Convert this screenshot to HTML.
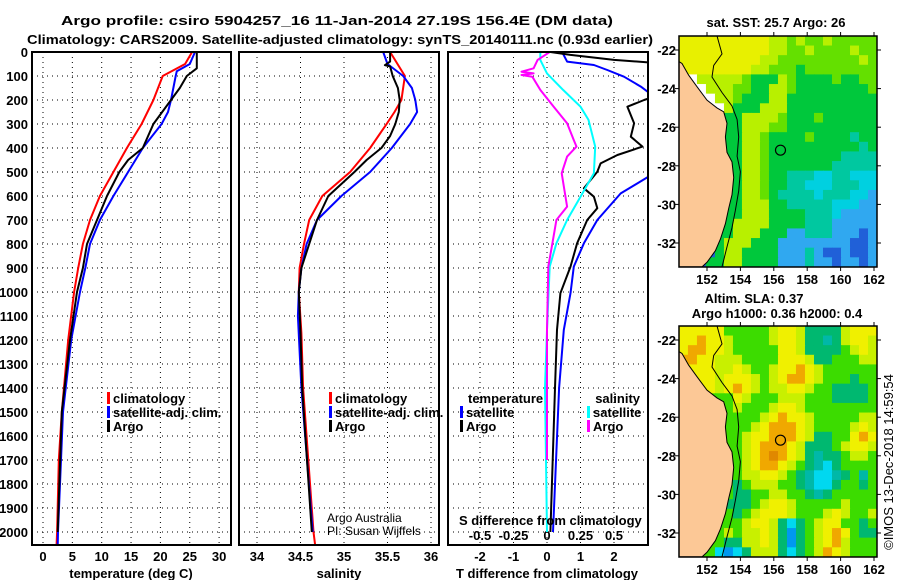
<!DOCTYPE html>
<html><head><meta charset="utf-8"><title>Argo profile</title>
<style>
html,body{margin:0;padding:0;background:#fff;}
svg{display:block;font-family:"Liberation Sans",Arial,sans-serif;}
.b{font-weight:bold;font-size:13px;}
</style></head>
<body>
<svg id="chart" width="900" height="580" viewBox="0 0 900 580" xmlns="http://www.w3.org/2000/svg">
<defs>
<clipPath id="c1"><rect x="32" y="52" width="199" height="493"/></clipPath>
<clipPath id="c2"><rect x="239" y="52" width="200" height="493"/></clipPath>
<clipPath id="c3"><rect x="448" y="52" width="200" height="493"/></clipPath>
<clipPath id="cm1"><rect x="679" y="36" width="198" height="231"/></clipPath>
<clipPath id="cm2"><rect x="679" y="326" width="198" height="231"/></clipPath>
</defs>
<text x="337" y="25" text-anchor="middle" class="b" textLength="552" lengthAdjust="spacingAndGlyphs">Argo profile: csiro 5904257_16 11-Jan-2014 27.19S 156.4E (DM data)</text>
<text x="340" y="44" text-anchor="middle" class="b" textLength="626" lengthAdjust="spacingAndGlyphs">Climatology: CARS2009. Satellite-adjusted climatology: synTS_20140111.nc (0.93d earlier)</text>
<g id="g"></g>
</svg>
<script>
// ---------- data: temperature panel ----------
const tClimDepth = [0,50,100,200,300,400,500,600,700,800,900,1000,1200,1500,1700,2000,2060];
const tClim = [25.4,24.2,20.4,18.8,16.8,14.3,12,9.7,8,6.8,6,5.3,4.3,3.2,2.7,2.4,2.3];
const tSatDepth = [0,50,80,100,200,250,300,400,500,600,700,800,900,1000,1200,1500,1800,2000,2060];
const tSat = [25.9,25,22.8,22.6,21.8,21.3,20.2,17,14.5,12,9.7,8,7.2,6.3,4.8,3.4,2.9,2.55,2.5];
const tArgoDepth = [0,68,100,150,200,300,400,450,500,600,700,800,900,1000,1200,1500,2000];
const tArgo = [26.2,26.2,24.5,23.3,21.8,18.8,17,14.5,13,10.9,9.2,7.5,6.8,5.8,4.6,3.2,2.5];
// ---------- data: salinity panel ----------
const sClimDepth = [0,100,200,250,300,400,500,600,700,800,900,1000,1170,1400,2000,2060];
const sClim = [35.53,35.70,35.66,35.58,35.49,35.3,35.07,34.75,34.6,34.54,34.49,34.48,34.51,34.53,34.65,34.67];
const sSatDepth = [0,50,100,150,200,250,300,400,500,600,700,800,900,1000,1100,1400,2000];
const sSat = [35.45,35.5,35.68,35.78,35.82,35.84,35.76,35.55,35.3,34.97,34.69,34.57,34.51,34.48,34.47,34.51,34.64];
const sArgoDepth = [0,40,55,60,100,150,200,250,300,350,400,450,500,600,700,800,900,1000,1170,1400,2000];
const sArgo = [35.53,35.53,35.47,35.53,35.56,35.62,35.64,35.63,35.59,35.53,35.43,35.26,35.12,34.82,34.69,34.6,34.51,34.48,34.5,34.52,34.63];
// ---------- data: difference panel ----------
const dTArgoDepth = [0,12,33,45,186,200,228,297,353,394,429,464,499,568,603,651,700,797,894,1005,1158,1400,2000];
const dTArgo = [0.1,0.7,2,3.2,3.2,2.9,2.4,2.6,2.5,2.85,2.1,1.6,1.5,1.1,1.4,1.5,1.2,0.9,0.7,0.4,0.3,0.24,0.1];
const dTSatDepth = [0,40,54,75,103,144,186,505,589,700,797,894,1005,1158,1400,2000];
const dTSat = [0.45,0.6,1.4,1.8,2.3,2.8,3.2,3.2,2.2,1.5,1.1,0.8,0.7,0.5,0.36,0.18];
const dSSatDepth = [0,33,89,158,228,283,394,505,603,700,797,894,1158,1400,2000];
const dSSat = [-0.05,-0.05,0,0.12,0.25,0.31,0.36,0.35,0.25,0.15,0.07,0.02,0,-0.015,0];
const dSArgoDepth = [0,33,68,82,89,96,103,158,228,297,367,394,436,505,575,644,700,797,894,1158,1700];
const dSArgo = [0.02,-0.07,-0.1,-0.19,-0.1,-0.19,-0.11,-0.05,0.05,0.15,0.2,0.22,0.15,0.11,0.13,0.15,0.07,0.04,0.01,0,0];
// ---------- ticks ----------
const depthTicks = [0,100,200,300,400,500,600,700,800,900,1000,1100,1200,1300,1400,1500,1600,1700,1800,1900,2000];
const tTicks = [0,5,10,15,20,25,30];
const sTicks = ["34","34.5","35","35.5","36"];
const dTTicks = [-2,-1,0,1,2];
const dSTicks = ["-0.5","-0.25","0","0.25","0.5"];
const lonTicks = [152,154,156,158,160,162];
const latTicks = [-22,-24,-26,-28,-30,-32];
// ---------- map grids ----------
const sstGrid = [
"YYYYYYYYYYLLGLGGLGGGGG","YYYYYYYYYYLLGGLGGGGLGG","YYYYYYYYYLLGGGGGGGGGLG","YYYYYYYYLLGGGDGGGGGGGG",
"WWLLLLLGDDDLGDDDDGDDGG","WWWLLLGGDDLLGDDDDDDDDG","WWWWLLGDDDLLDDDDDDDDDD","WWWWWLDDDLLLDDDDDDDDDD",
"SSSSSDDLLLLGDDDGDDDDDD","SSSSSDDLLLGGDDDDDDDDDD","SSSSSDDLLGDDDDGDDDDTDD","SSSSSDDLLGDDDDDDDDDDTD",
"SSSSSDDLLGDDDDDDDDTTTT","SSSSSDDLLGDDDDDDDTTTTT","SSSSSDDLLGDDTTTCCTTCCC","SSSSSDDLLGDDTTCCCTTTCC",
"SSSSSDDLLGDTTTTCTTTCCB","SSSSSDDLLLDDTTTTTCCCBB","SSSSSDDLLLDDDDTTTCBBBB","SSSSDDLLLLDDDDTTTBBBBB",
"SSSSDDLLLDDDBBTTTBBBNB","SSSSDLLLDDDBBBBBBBBNNB","SSSNDLLDDDDBBBTBNNBNNB","SSNDDLLDDDDBBBTBBNBBNB"];
const slaGrid = [
"YYYYYGGGGGLYYLDDDDLYYY","YYOYYLGGGGLYYLDDTDLYYL","YOOYYLGGGGGYYLDDDDGLYL","OOYYLLLGGGGYYYLDDGGGLL",
"YYYYLLYLGGLYYOYLGGGGGG","YYYYLYYYLGLYOOYLGGGDGG","YYYYLYOYLGLLYYLGGDDDDG","SSSSGGYLGGGLLLGGGDDDDG",
"SSSSSGLGGGLYYLGGGGGGGG","SSSSSGGGGLYOYYLGGGGGLL","SSSSSGGGLYOOOYLGGGGLYL","SSSSSGGLYYOOOYLDDGGYOY",
"SSSSSGGLYOOOYLDDDGLYYL","SSSSSGGLYOoOYLDTDDGLLG","SSSSSGGLYOOYLGDTCDGGGG","SSSSSGGLLYYLGDTCCTDGTG",
"SSSSSGDGLLLGGDTCCDGGDG","SSSSSGDDGGLLGGDTDGGGGG","SSSSGDDDGLYYLGGGGGLGGG","SSSSGGDGLYYYLGGGLYLGGL",
"SSSSGGGLYYLDCDGLYYGGDG","SSSSGLGLLYLDBDGLYOYGDD","SSSGGDDLLYLDBDGLYOLGGG","SSSGCBCDLLLDCDGLOYLGGG"];
const argoLon = 156.4, argoLat = -27.19;

// ---------- scales ----------
const yD = d => 52 + d*0.24;
const xT = v => 43 + v*5.87;
const xS = v => 257 + (v-34)*87;
const xDT = v => 547 + v*33.5;
const xDS = v => 547 + v*134;
const lonX = lon => 707 + (lon-152)*16.7;
const latY1 = lat => 50 + (-22-lat)*19.3;
const latY2 = lat => 340 + (-22-lat)*19.3;

const NS = "http://www.w3.org/2000/svg";
const G = document.getElementById('g');
function mk(tag, attrs, parent){ const e=document.createElementNS(NS,tag); for(const k in attrs) e.setAttribute(k,attrs[k]); (parent||G).appendChild(e); return e; }
function txt(s, attrs, parent){ const e=mk('text',attrs,parent); e.textContent=s; return e; }
function line(xs, ds, xf, color, w, clip, name){
  const pts = xs.map((v,i)=> xf(v).toFixed(1)+','+yD(ds[i]).toFixed(1)).join(' ');
  const p = mk('polyline',{points:pts,fill:'none',stroke:color,'stroke-width':w,'clip-path':'url(#'+clip+')','stroke-linejoin':'round'});
  
  
  return p;
}

// ---------- panel frames / grids ----------
const panels = [{x0:32,x1:231,clip:'c1',name:'temperature-panel'},{x0:239,x1:439,clip:'c2',name:'salinity-panel'},{x0:448,x1:648,clip:'c3',name:'difference-panel'}];
panels.forEach(p=>{
  const grp = mk('g',{});
  
  
  depthTicks.forEach(d=>{ if(d>0) mk('line',{x1:p.x0,x2:p.x1,y1:yD(d),y2:yD(d),stroke:'#000','stroke-width':1,'stroke-dasharray':'1,4'},grp); });
});
tTicks.forEach(v=>{ mk('line',{x1:xT(v),x2:xT(v),y1:52,y2:545,stroke:'#000','stroke-dasharray':'1,4'}); });
sTicks.forEach(v=>{ mk('line',{x1:xS(+v),x2:xS(+v),y1:52,y2:545,stroke:'#000','stroke-dasharray':'1,4'}); });
dTTicks.forEach(v=>{ mk('line',{x1:xDT(v),x2:xDT(v),y1:52,y2:545,stroke:'#000','stroke-dasharray':'1,4'}); });

depthTicks.forEach(d=>{
  const t = txt(String(d),{x:28,y:yD(d)+5,'text-anchor':'end',class:'b'});
  
  
});
tTicks.forEach(v=>{
  const t = txt(String(v),{x:xT(v),y:561,'text-anchor':'middle',class:'b'});
  
  
});
sTicks.forEach(v=>{
  const t = txt(v,{x:xS(+v),y:561,'text-anchor':'middle',class:'b'});
  
  
});
dTTicks.forEach(v=>{
  const t = txt(String(v),{x:xDT(v),y:561,'text-anchor':'middle',class:'b'});
  
  
});
dSTicks.forEach(v=>{
  const t = txt(v,{x:xDS(+v),y:540,'text-anchor':'middle',class:'b'});
  
  
});

line(tClim,tClimDepth,xT,'#f00',2,'c1','temp-climatology-line');
line(tSat,tSatDepth,xT,'#00f',2,'c1','temp-satellite-line');
line(tArgo,tArgoDepth,xT,'#000',2,'c1','temp-argo-line');
line(sClim,sClimDepth,xS,'#f00',2,'c2','sal-climatology-line');
line(sSat,sSatDepth,xS,'#00f',2,'c2','sal-satellite-line');
line(sArgo,sArgoDepth,xS,'#000',2,'c2','sal-argo-line');
line(dTSat,dTSatDepth,xDT,'#00f',2,'c3','tdiff-satellite-line');
line(dTArgo,dTArgoDepth,xDT,'#000',2,'c3','tdiff-argo-line');
line(dSSat,dSSatDepth,xDS,'#0ff',2,'c3','sdiff-satellite-line');
line(dSArgo,dSArgoDepth,xDS,'#f0f',2,'c3','sdiff-argo-line');

panels.forEach(p=>{
  const r = mk('rect',{x:p.x0,y:52,width:p.x1-p.x0,height:493,fill:'none',stroke:'#000','stroke-width':2});
  
  
});

[["temperature (deg C)",131,578,'x-axis-title-temperature'],["salinity",339,578,'x-axis-title-salinity'],["T difference from climatology",547,578,'x-axis-title-t-diff']].forEach(a=>{
  const t = txt(a[0],{x:a[1],y:a[2],'text-anchor':'middle',class:'b'});
  
  
});
{ const t = txt("S difference from climatology",{x:459,y:525,class:'b'});
  
   }

function legEntry(x,y,color,label){
  const g = mk('g',{});
  
  
  mk('rect',{x:x,y:y-11,width:3,height:12,fill:color},g);
  txt(label,{x:x+6,y:y,class:'b'},g);
}
legEntry(107,403,'#f00','climatology');legEntry(107,417,'#00f','satellite-adj. clim.');legEntry(107,431,'#000','Argo');
legEntry(329,403,'#f00','climatology');legEntry(329,417,'#00f','satellite-adj. clim.');legEntry(329,431,'#000','Argo');
{ const t = txt("temperature",{x:468,y:403,class:'b'});   }
{ const t = txt("salinity",{x:640,y:403,'text-anchor':'end',class:'b'});   }
legEntry(460,417,'#00f','satellite');legEntry(460,431,'#000','Argo');
legEntry(587,417,'#0ff','satellite');legEntry(587,431,'#f0f','Argo');
{ const t = txt("Argo Australia",{x:327,y:522,'font-size':12});   }
{ const t = txt("PI: Susan Wijffels",{x:327,y:535,'font-size':12});   }

// ---------- maps ----------
const pal1 = {Y:'#e8f000',L:'#b8f000',G:'#64e000',D:'#00c83c',T:'#00c8a0',C:'#00d0e0',B:'#30a8f0',N:'#2060d8',W:'#ffffff',S:'#00c83c'};
const pal2 = {Y:'#f0f000',O:'#f0a800',o:'#e08800',L:'#c8f000',G:'#3cdc00',D:'#00b870',T:'#00b8a8',C:'#00d8f0',B:'#0098f0',S:'#3cdc00'};
const lonW = 150.32, lonE = 162.18, latN = -21.27, latS = -33.24;
const land = [[150.32,-22.6],[150.5,-22.7],[150.9,-23.3],[151.4,-23.9],[152.0,-24.6],[152.6,-25.0],[153.0,-25.2],[153.2,-25.8],[153.1,-26.5],[153.2,-27.3],[153.5,-27.8],[153.6,-28.6],[153.5,-29.5],[153.3,-30.2],[153.1,-31],[152.8,-31.8],[152.5,-32.4],[152.0,-33],[151.7,-33.24],[150.32,-33.24]];
const iso = [[152.6,-21.27],[152.9,-22.2],[152.4,-22.8],[152.3,-23.4],[152.9,-24.2],[153.5,-24.9],[153.8,-25.6],[153.9,-26.5],[153.8,-27.5],[154.0,-28.3],[153.9,-29.3],[153.7,-30.3],[153.5,-31.2],[153.2,-32.2],[152.9,-33.24]];
function drawMap(grid,pal,latY,clip,name,y0){
  const g = mk('g',{'clip-path':'url(#'+clip+')'});
  
  
  const rows = grid.length, cols = grid[0].length;
  const dLon = (lonE-lonW)/cols, dLat = (latN-latS)/rows;
  grid.forEach((row,r)=>{
    for(let c=0;c<cols;c++){
      const x = lonX(lonW+c*dLon), y = latY(latN - r*dLat);
      const cell = mk('rect',{x:x.toFixed(2),y:y.toFixed(2),width:(lonX(lonW+(c+1)*dLon)-x+0.6).toFixed(2),height:(latY(latN-(r+1)*dLat)-y+0.6).toFixed(2),fill:pal[row[c]]},g);
      
      
    }
  });
  const lp = mk('polygon',{points:land.map(p=>lonX(p[0]).toFixed(1)+','+latY(p[1]).toFixed(1)).join(' '),fill:'#fcc896',stroke:'#000','stroke-width':1},g);
  
  
  const il = mk('polyline',{points:iso.map(p=>lonX(p[0]).toFixed(1)+','+latY(p[1]).toFixed(1)).join(' '),fill:'none',stroke:'#000','stroke-width':1},g);
  
  
  const ci = mk('circle',{cx:lonX(argoLon),cy:latY(argoLat),r:5,fill:'none',stroke:'#000','stroke-width':1.2},g);
  
  
  const fr = mk('rect',{x:679,y:y0,width:198,height:231,fill:'none',stroke:'#000','stroke-width':1.5});
  
  
  lonTicks.forEach(l=>{
    mk('line',{x1:lonX(l),x2:lonX(l),y1:y0-4,y2:y0,stroke:'#000'});
    mk('line',{x1:lonX(l),x2:lonX(l),y1:y0+231,y2:y0+235,stroke:'#000'});
    const t = txt(String(l),{x:lonX(l),y:y0+248,'text-anchor':'middle',class:'b'});
    
    
  });
  latTicks.forEach(l=>{
    mk('line',{x1:675,x2:679,y1:latY(l),y2:latY(l),stroke:'#000'});
    mk('line',{x1:877,x2:881,y1:latY(l),y2:latY(l),stroke:'#000'});
    const t = txt(String(l),{x:676,y:latY(l)+5,'text-anchor':'end',class:'b'});
    
    
  });
}
drawMap(sstGrid,pal1,latY1,'cm1','sst-map',36);
drawMap(slaGrid,pal2,latY2,'cm2','sla-map',326);
{ const t = txt("sat. SST: 25.7 Argo: 26",{x:776,y:27,'text-anchor':'middle',class:'b'});   }
{ const t = txt("Altim. SLA: 0.37",{x:754,y:303,'text-anchor':'middle',class:'b'});   }
{ const t = txt("Argo h1000: 0.36 h2000: 0.4",{x:777,y:318,'text-anchor':'middle',class:'b'});   }
{ const t = txt("©IMOS 13-Dec-2018 14:59:54",{x:0,y:0,'text-anchor':'middle','font-size':13,transform:'translate(893,462) rotate(-90)'});   }
</script>
</body></html>
